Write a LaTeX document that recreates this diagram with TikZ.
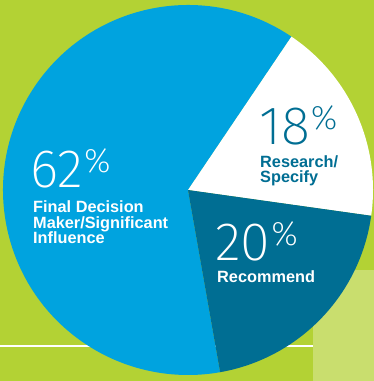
\documentclass[tikz,border=0pt]{standalone}
\usepackage{fontspec}
\setmainfont{Liberation Sans}
\newfontfamily\thinfont{Fira Sans ExtraLight}
\usepackage{xcolor}
\definecolor{bggreen}{HTML}{B3D234}
\definecolor{lightgreen}{HTML}{C9DE6E}
\definecolor{pieblue}{HTML}{00A3DF}
\definecolor{pieteal}{HTML}{006E93}

\begin{document}
\begin{tikzpicture}[x=1pt,y=1pt]
    \newcommand{\pieradius}{185}
    \newcommand{\pc}{\kern1pt\raisebox{15pt}{\fontsize{34}{34}\selectfont\%}}
    \tikzstyle{pct}=[anchor=base west,inner sep=0pt,font=\thinfont\fontsize{54}{54}\selectfont]
    \tikzstyle{caption}=[anchor=base west,inner sep=0pt,align=left,font=\bfseries\fontsize{16.3}{15.5}\selectfont]

    \useasboundingbox (0,0) rectangle (374,381);
    \fill[bggreen] (0,0) rectangle (374,381);
    \fill[lightgreen] (313,0) rectangle (374,111);
    \coordinate (lineStart) at (0,35);
    \coordinate (lineEnd) at (313,35);
    \draw[white,line width=2pt] (lineStart)--(lineEnd);

    \coordinate (c) at (188,191);
    \fill[pieblue] (c)--++(56:\pieradius) arc[start angle=56,end angle=280,radius=\pieradius]--cycle;
    \fill[white] (c)--++(-8:\pieradius) arc[start angle=-8,end angle=56,radius=\pieradius]--cycle;
    \fill[pieteal] (c)--++(-80:\pieradius) arc[start angle=-80,end angle=-8,radius=\pieradius]--cycle;

    \node[pct,white] (nFinalPct) at (30,193) {62\pc};
    \node[caption,white] (nFinal) at (33,137) {Final Decision\\Maker/Significant\\Influence};
    \node[pct,pieteal] (nResearchPct) at (259,236) {18\pc};
    \node[caption,pieteal] (nResearch) at (260,198) {Research/\\Specify};
    \node[pct,white] (nRecommendPct) at (215,121) {20\pc};
    \node[caption,white] (nRecommend) at (217,98) {Recommend};
\end{tikzpicture}
\end{document}
